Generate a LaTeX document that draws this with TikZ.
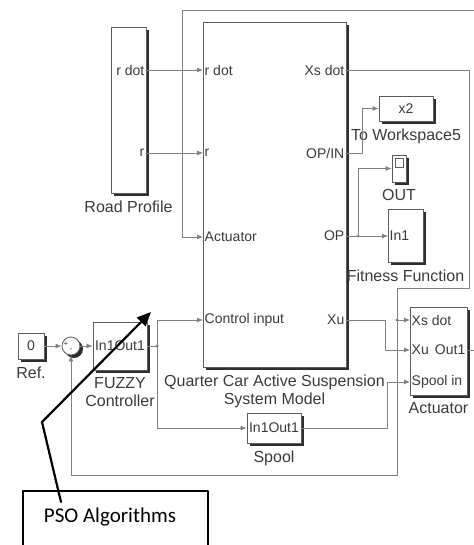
\documentclass[tikz,border=0pt]{standalone}
\usepackage{fontspec}
\setmainfont{Liberation Sans}
\newfontfamily\psofont{Carlito}
\usetikzlibrary{arrows.meta,positioning}
\definecolor{wiregray}{HTML}{808080}
\definecolor{blkgray}{HTML}{5C5C5C}
\definecolor{shdgray}{HTML}{2E2E2E}
\definecolor{txtgray}{HTML}{3A3A3A}
\tikzset{
  blk/.style={draw=blkgray,fill=white,line width=0.8pt,inner sep=0pt,
    text=txtgray,font=\fontsize{14}{16}\selectfont,
    preaction={fill=shdgray,transform canvas={xshift=3pt,yshift=-3pt}}},
  port/.style={inner sep=1.5pt,text=txtgray,font=\fontsize{14}{16}\selectfont},
  lbl/.style={inner sep=0pt,text=txtgray,font=\fontsize{16}{18}\selectfont,align=center},
  wire/.style={draw=wiregray,line width=0.8pt},
  sig/.style={wire,-{Latex[length=6pt,width=5pt]}},
  every picture/.style={line cap=round,line join=round}
}

\begin{document}
\begin{tikzpicture}[x=1pt,y=-1pt,
  psobox/.style={draw=black,line width=1.6pt},
  psoarrow/.style={draw=black,line width=2.2pt,-{Triangle[length=14pt,width=12pt]}}]
  \useasboundingbox (0,0) rectangle (473,545);

  \node[blk,minimum width=35,minimum height=166] (road) at (128.5,110) {};
  \node[lbl,below=7pt of road] (roadlbl) {Road Profile};
  \node[port,anchor=east] (road-rdot) at (146,70) {r dot};
  \node[port,anchor=east] (road-r) at (146,153) {r};

  \node[blk,minimum width=143,minimum height=345] (susp) at (274.5,194.5) {};
  \node[lbl,below=7pt of susp] (susplbl) {Quarter Car Active Suspension\\System Model};
  \node[port,anchor=west] (susp-rdot) at (203,70) {r dot};
  \node[port,anchor=west] (susp-r) at (203,153) {r};
  \node[port,anchor=west] (susp-act) at (203,237) {Actuator};
  \node[port,anchor=west] (susp-ctl) at (203,320) {Control input};
  \node[port,anchor=east] (susp-xsdot) at (346,70) {Xs dot};
  \node[port,anchor=east] (susp-opin) at (346,153) {OP/IN};
  \node[port,anchor=east] (susp-op) at (346,236) {OP};
  \node[port,anchor=east] (susp-xu) at (346,320) {Xu};

  \node[blk,minimum width=54,minimum height=25] (ws) at (406,108.5) {x2};
  \node[lbl,below=7pt of ws] (wslbl) {To Workspace5};

  \node[blk,minimum width=14,minimum height=27] (scope) at (399,168.5) {};
  \draw[blkgray,line width=0.8pt] (395,158) rectangle (403,167);
  \node[lbl,below=7pt of scope] (scopelbl) {OUT};

  \node[blk,minimum width=35,minimum height=53] (fit) at (405.5,235.5) {};
  \node[lbl,below=7pt of fit] (fitlbl) {Fitness Function};
  \node[port,anchor=west] (fit-in) at (388,236) {In1};

  \node[blk,minimum width=57,minimum height=88] (act) at (438.5,351) {};
  \node[lbl,below=7pt of act] (actlbl) {Actuator};
  \node[port,anchor=west] (act-xs) at (410,320) {Xs dot};
  \node[port,anchor=west] (act-xu) at (410,350) {Xu};
  \node[port,anchor=east] (act-out) at (467,350) {Out1};
  \node[port,anchor=west] (act-sp) at (410,382) {Spool in};

  \node[blk,minimum width=54,minimum height=48] (fuzzy) at (120,346) {In1Out1};
  \node[lbl,below=7pt of fuzzy] (fuzzylbl) {FUZZY\\Controller};

  \node[blk,minimum width=54,minimum height=30] (spool) at (274,428) {In1Out1};
  \node[lbl,below=7pt of spool] (spoollbl) {Spool};

  \node[blk,minimum width=26,minimum height=26] (ref) at (31,346) {0};
  \node[lbl,below=7pt of ref] (reflbl) {Ref.};

  \node[blk,circle,minimum size=18] (sum) at (71,346) {};
  \node[text=txtgray,font=\fontsize{8}{8}\selectfont,inner sep=0pt] (sum-p) at (66,344) {+};
  \node[text=txtgray,font=\fontsize{8}{8}\selectfont,inner sep=0pt] (sum-m) at (71,350) {-};

  \draw[sig] (road-rdot.east) -- (susp-rdot.west);
  \draw[sig] (road-r.east) -- (susp-r.west);
  \draw[sig] (act-out.east) -- ++(30,0) |- (182,10) |- (susp-act.west);

  \draw[sig] (susp-opin.east) -- ++(16,0) |- (ws.west);
  \coordinate (brop) at (358,236);
  \draw[sig] (susp-op.east) -- (fit-in.west);
  \draw[sig] (brop) |- (scope.west);
  \fill[wiregray] (brop) circle (1.6);

  \draw[sig] (susp-xsdot.east) -| (469,288) -| (397,475) -| (sum.south);
  \coordinate (brxs) at (397,320);
  \draw[sig] (brxs) -- (act-xs.west);
  \fill[wiregray] (brxs) circle (1.6);

  \draw[sig] (susp-xu.east) -- (385,320) |- (act-xu.west);
  \draw[sig] (spool.east) -- (387,428) |- (act-sp.west);

  \draw[sig] (ref.east) -- (sum.west);
  \draw[sig] (sum.east) -- (fuzzy.west);
  \coordinate (brfz) at (157,346);
  \draw[wire] (fuzzy.east) -- (brfz);
  \draw[sig] (brfz) |- (susp-ctl.west);
  \draw[sig] (brfz) |- (spool.west);
  \fill[wiregray] (brfz) circle (1.6);

  \node[psobox,minimum width=185,minimum height=80,anchor=north west] (pso) at (22,490) {};
  \node[font=\psofont\fontsize{21}{24}\selectfont,anchor=base,inner sep=0pt] (psolbl) at (110,522) {PSO Algorithms};
  \coordinate (psosrc) at (61,502);
  \coordinate (psobend) at (42,422);
  \coordinate (psotip) at (151,312);
  \draw[psoarrow] (psosrc) -- (psobend) -- (psotip);
\end{tikzpicture}
\end{document}
